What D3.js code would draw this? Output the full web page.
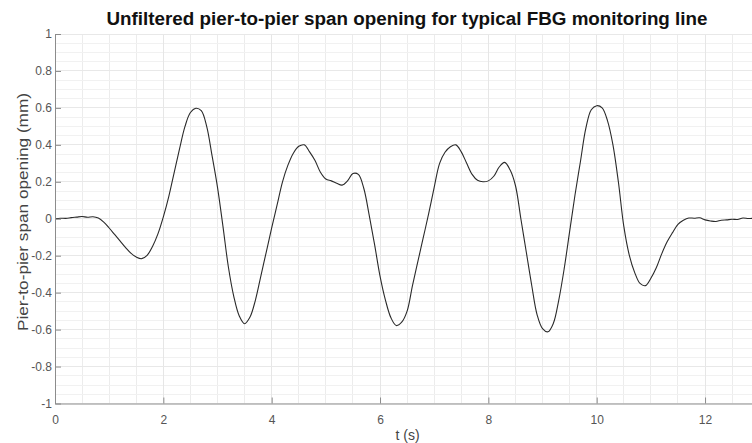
<!DOCTYPE html>
<html>
<head>
<meta charset="utf-8">
<script src="https://cdn.jsdelivr.net/npm/d3@7/dist/d3.min.js"></script>
<style>
  html, body { margin: 0; padding: 0; background: #fff; }
  svg { display: block; font-family: "Liberation Sans", Arial, Helvetica, sans-serif; }
</style>
</head>
<body>
<svg id="chart" width="752" height="443"></svg>
<script>
// ---- Data ----
const timeSeconds = [
  0.0,0.1,0.2,0.3,0.4,0.5,0.6,0.7,0.8,0.9,
  1.0,1.1,1.2,1.3,1.4,1.5,1.6,1.7,1.8,1.9,
  2.0,2.1,2.2,2.3,2.4,2.5,2.6,2.7,2.8,2.9,
  3.0,3.1,3.2,3.3,3.4,3.5,3.6,3.7,3.8,3.9,
  4.0,4.1,4.2,4.3,4.4,4.5,4.6,4.7,4.8,4.9,
  5.0,5.1,5.2,5.3,5.4,5.5,5.6,5.7,5.8,5.9,
  6.0,6.1,6.2,6.3,6.4,6.5,6.6,6.7,6.8,6.9,
  7.0,7.1,7.2,7.3,7.4,7.5,7.6,7.7,7.8,7.9,
  8.0,8.1,8.2,8.3,8.4,8.5,8.6,8.7,8.8,8.9,
  9.0,9.1,9.2,9.3,9.4,9.5,9.6,9.7,9.8,9.9,
  10.0,10.1,10.2,10.3,10.4,10.5,10.6,10.7,10.8,10.9,
  11.0,11.1,11.2,11.3,11.4,11.5,11.6,11.7,11.8,11.9,
  12.0,12.1,12.2,12.3,12.4,12.5,12.6,12.7,12.8,12.9
];
const spanOpening = [
  0.000,0.003,0.002,0.006,0.009,0.012,0.008,0.011,0.004,-0.018,
  -0.050,-0.085,-0.120,-0.155,-0.186,-0.207,-0.216,-0.198,-0.150,-0.082,
  0.010,0.120,0.250,0.380,0.500,0.575,0.598,0.585,0.500,0.340,
  0.170,-0.040,-0.260,-0.420,-0.525,-0.568,-0.532,-0.440,-0.310,-0.180,
  -0.050,0.075,0.200,0.290,0.355,0.392,0.400,0.362,0.315,0.252,
  0.215,0.205,0.192,0.182,0.205,0.245,0.240,0.165,0.020,-0.140,
  -0.310,-0.440,-0.535,-0.578,-0.560,-0.500,-0.360,-0.230,-0.100,0.030,
  0.170,0.300,0.360,0.390,0.400,0.362,0.300,0.240,0.208,0.200,
  0.205,0.230,0.280,0.305,0.265,0.180,0.000,-0.180,-0.360,-0.520,
  -0.595,-0.612,-0.566,-0.440,-0.270,-0.070,0.130,0.310,0.490,0.590,
  0.612,0.600,0.530,0.400,0.200,-0.040,-0.195,-0.290,-0.350,-0.362,
  -0.322,-0.265,-0.190,-0.125,-0.075,-0.030,-0.008,0.004,0.003,0.005,
  -0.006,-0.012,-0.015,-0.008,-0.006,-0.003,-0.004,0.004,0.001,0.003
];
const xTickValues = [0, 2, 4, 6, 8, 10, 12];
const xTickLabels = ["0", "2", "4", "6", "8", "10", "12"];
const yTickValues = [1, 0.8, 0.6, 0.4, 0.2, 0, -0.2, -0.4, -0.6, -0.8, -1];
const yTickLabels = ["1", "0.8", "0.6", "0.4", "0.2", "0", "-0.2", "-0.4", "-0.6", "-0.8", "-1"];
const titleText = "Unfiltered pier-to-pier span opening for typical FBG monitoring line";
const xLabelText = "t (s)";
const yLabelText = "Pier-to-pier span opening (mm)";

// ---- Layout ----
const svg = d3.select("#chart");
const plotLeft = 55, plotTop = 34, plotBottom = 403.5;
const x = d3.scaleLinear().domain([0, 13]).range([plotLeft, plotLeft + 13 * 54.17]);
const y = d3.scaleLinear().domain([-1, 1]).range([plotBottom, plotTop]);
const plotRight = x(13);

const points = timeSeconds.map((t, i) => ({ t, v: spanOpening[i] }));

// clip
svg.append("defs").append("clipPath").attr("id", "plotClip")
  .append("rect").attr("x", plotLeft).attr("y", plotTop)
  .attr("width", plotRight - plotLeft).attr("height", plotBottom - plotTop);

// minor grid
const gGrid = svg.append("g").attr("clip-path", "url(#plotClip)");
const xMinor = d3.range(0, 27).map(i => i * 0.5);
const yMinor = d3.range(0, 41).map(i => -1 + i * 0.05);
gGrid.selectAll("line.xminor").data(xMinor).join("line")
  .attr("x1", d => x(d)).attr("x2", d => x(d)).attr("y1", plotTop).attr("y2", plotBottom)
  .attr("stroke", "#ececec").attr("stroke-width", 1).attr("shape-rendering", "crispEdges");
gGrid.selectAll("line.yminor").data(yMinor).join("line")
  .attr("x1", plotLeft).attr("x2", plotRight).attr("y1", d => y(d)).attr("y2", d => y(d))
  .attr("stroke", "#f1f1f1").attr("stroke-width", 1).attr("shape-rendering", "crispEdges");
// major grid
gGrid.selectAll("line.xmajor").data(xTickValues).join("line")
  .attr("x1", d => x(d)).attr("x2", d => x(d)).attr("y1", plotTop).attr("y2", plotBottom)
  .attr("stroke", "#e6e6e6").attr("stroke-width", 1).attr("shape-rendering", "crispEdges");
gGrid.selectAll("line.ymajor").data(yTickValues).join("line")
  .attr("x1", plotLeft).attr("x2", plotRight).attr("y1", d => y(d)).attr("y2", d => y(d))
  .attr("stroke", "#e8e8e8").attr("stroke-width", 1).attr("shape-rendering", "crispEdges");

// data line
const line = d3.line().x(d => x(d.t)).y(d => y(d.v)).curve(d3.curveCatmullRom.alpha(0.5));
svg.append("path").datum(points)
  .attr("clip-path", "url(#plotClip)")
  .attr("d", line).attr("fill", "none")
  .attr("stroke", "#2a2a2a").attr("stroke-width", 1.1);

// axes
const xAxis = d3.axisBottom(x).tickValues(xTickValues)
  .tickFormat((d, i) => xTickLabels[i]).tickSizeInner(-6).tickSizeOuter(0).tickPadding(12);
const gx = svg.append("g").attr("transform", `translate(0,${plotBottom})`).call(xAxis);
const yAxis = d3.axisLeft(y).tickValues(yTickValues)
  .tickFormat((d, i) => yTickLabels[i]).tickSizeInner(-6).tickSizeOuter(0).tickPadding(3);
const gy = svg.append("g").attr("transform", `translate(${plotLeft},0)`).call(yAxis);

[gx, gy].forEach(g => {
  g.select(".domain").attr("stroke", "#8c8c8c").attr("stroke-width", 1);
  g.selectAll(".tick line").attr("stroke", "#8c8c8c");
  g.selectAll(".tick text").attr("fill", "#555").attr("font-size", 12)
    .attr("font-family", "'Liberation Sans', Arial, sans-serif");
});
gy.selectAll(".tick text").attr("x", -3);

// title
svg.append("text").attr("x", 106.5).attr("y", 25)
  .attr("font-size", 18).attr("font-weight", "bold").attr("fill", "#111")
  .attr("textLength", 601).attr("lengthAdjust", "spacingAndGlyphs")
  .text(titleText);

// x label
svg.append("text").attr("x", 407.5).attr("y", 439.5).attr("text-anchor", "middle")
  .attr("font-size", 14).attr("fill", "#444").text(xLabelText);

// y label
svg.append("text").attr("transform", "translate(28,212) rotate(-90)")
  .attr("text-anchor", "middle").attr("font-size", 15).attr("fill", "#444")
  .attr("textLength", 238).attr("lengthAdjust", "spacingAndGlyphs")
  .text(yLabelText);
</script>
</body>
</html>
